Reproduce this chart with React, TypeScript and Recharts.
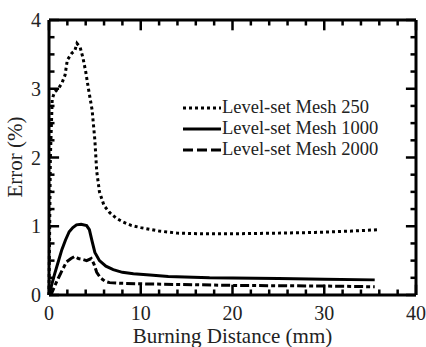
import { LineChart, Line, XAxis, YAxis, Legend, ReferenceLine } from 'recharts';

const mesh250X = [0, 0.15, 0.35, 0.6, 1.0, 1.4, 1.75, 2.0, 2.5, 2.8, 3.05, 3.4, 3.7, 4.0, 4.3, 4.7, 5.0, 5.2, 5.5, 6.0, 6.6, 7.3, 8.1, 9.0, 10, 12, 14, 16.5, 20, 25, 29, 33, 36];
const mesh250Y = [0, 2.0, 2.85, 2.95, 3.0, 3.08, 3.2, 3.42, 3.52, 3.55, 3.66, 3.6, 3.45, 3.25, 3.0, 2.69, 2.25, 1.8, 1.5, 1.3, 1.2, 1.12, 1.06, 1.01, 0.98, 0.93, 0.9, 0.89, 0.89, 0.9, 0.91, 0.93, 0.95];

const mesh1000X = [0, 0.3, 0.6, 1.0, 1.4, 1.8, 2.2, 2.6, 3.0, 3.5, 4.1, 4.4, 4.7, 5.0, 5.5, 6.2, 7.0, 8, 9.2, 11, 13, 17.5, 25, 30, 35.5];
const mesh1000Y = [0, 0.15, 0.3, 0.48, 0.66, 0.8, 0.92, 0.98, 1.02, 1.03, 1.01, 0.95, 0.78, 0.62, 0.5, 0.42, 0.37, 0.33, 0.31, 0.29, 0.27, 0.25, 0.24, 0.23, 0.22];

const mesh2000X = [0, 0.3, 0.65, 1.0, 1.4, 1.9, 2.4, 2.8, 3.2, 3.6, 4.1, 4.6, 4.9, 5.2, 5.6, 6.1, 6.6, 8, 11, 20, 30, 35.5];
const mesh2000Y = [0, 0.03, 0.14, 0.24, 0.35, 0.48, 0.53, 0.56, 0.53, 0.52, 0.5, 0.53, 0.45, 0.33, 0.25, 0.2, 0.18, 0.17, 0.16, 0.14, 0.13, 0.12];

const xTicks = [0, 2, 4, 6, 8, 10, 12, 14, 16, 18, 20, 22, 24, 26, 28, 30, 32, 34, 36, 38, 40];
const yTicks = [0, 0.25, 0.5, 0.75, 1, 1.25, 1.5, 1.75, 2, 2.25, 2.5, 2.75, 3, 3.25, 3.5, 3.75, 4];

const seriesNames = ['Level-set Mesh 250', 'Level-set Mesh 1000', 'Level-set Mesh 2000'];

// merged table: one row per x value, each series only where it has a point
const buildTable = () => {
  const rows = new Map<number, any>();
  const add = (xs: number[], ys: number[], key: string) =>
    xs.forEach((x, i) => {
      const row = rows.get(x) || { x };
      row[key] = ys[i];
      rows.set(x, row);
    });
  add(mesh250X, mesh250Y, 'm250');
  add(mesh1000X, mesh1000Y, 'm1000');
  add(mesh2000X, mesh2000Y, 'm2000');
  return [...rows.values()].sort((a, b) => a.x - b.x);
};

const FONT = '"Liberation Serif", "Times New Roman", Times, serif';
const dashes = ['3 3', undefined, '9 3 4 3'];

// inward tick lengths in data units (~10px major, ~5px minor)
const X_MAJOR_LEN = 0.15;
const X_MINOR_LEN = 0.08;
const Y_MAJOR_LEN = 1.1;
const Y_MINOR_LEN = 0.6;

const BottomTick = (props: any) => {
  const { x, y, payload } = props;
  if (payload.value % 10 !== 0) return <g />;
  return (
    <text x={x} y={y + 25} textAnchor="middle" fontSize={20} fontFamily={FONT} fill="#222">
      {payload.value}
    </text>
  );
};

const LeftTick = (props: any) => {
  const { x, y, payload } = props;
  if (!Number.isInteger(payload.value)) return <g />;
  return (
    <text x={x - 8} y={y + 7} textAnchor="end" fontSize={20} fontFamily={FONT} fill="#222">
      {payload.value}
    </text>
  );
};

const LegendBox = () => (
  <div style={{ fontFamily: FONT, fontSize: 18.5, color: '#222', lineHeight: '21px' }}>
    {seriesNames.map((name, i) => (
      <div key={name} style={{ display: 'flex', alignItems: 'center' }}>
        <svg width={40} height={21}>
          <line x1={1} x2={39} y1={11} y2={11} stroke="#000" strokeWidth={3} strokeDasharray={i === 2 ? '10 4' : dashes[i]} />
        </svg>
        <span>{name}</span>
      </div>
    ))}
  </div>
);

export default function App() {
  const data = buildTable();
  const keys = ['m250', 'm1000', 'm2000'];
  const tickSegments = [
    ...xTicks.flatMap((t) => {
      const len = t % 10 === 0 ? X_MAJOR_LEN : X_MINOR_LEN;
      return [
        { id: `b${t}`, seg: [{ x: t, y: 0 }, { x: t, y: len }] },
        { id: `t${t}`, seg: [{ x: t, y: 4 }, { x: t, y: 4 - len }] },
      ];
    }),
    ...yTicks.flatMap((t) => {
      const len = Number.isInteger(t) ? Y_MAJOR_LEN : Y_MINOR_LEN;
      return [
        { id: `l${t}`, seg: [{ x: 0, y: t }, { x: len, y: t }] },
        { id: `r${t}`, seg: [{ x: 40, y: t }, { x: 40 - len, y: t }] },
      ];
    }),
  ];
  return (
    <div style={{ position: 'absolute', left: 0, top: 0, background: '#fff', fontFamily: FONT }}>
      <LineChart width={426} height={347} data={data} margin={{ top: 19, right: 9, bottom: 12, left: 9 }}>
        <XAxis
          xAxisId="bottom"
          type="number"
          dataKey="x"
          domain={[0, 40]}
          ticks={xTicks}
          interval={0}
          height={40}
          tickLine={false}
          tickSize={0}
          tickMargin={0}
          tick={<BottomTick />}
          axisLine={{ stroke: '#000', strokeWidth: 3 }}
          label={{ value: 'Burning Distance (mm)', position: 'insideBottom', offset: -8, fontSize: 21, fontFamily: FONT, fill: '#222' }}
        />
        <XAxis
          xAxisId="top"
          orientation="top"
          type="number"
          dataKey="x"
          domain={[0, 40]}
          height={1}
          tick={false}
          tickLine={false}
          axisLine={{ stroke: '#000', strokeWidth: 3 }}
        />
        <YAxis
          yAxisId="left"
          type="number"
          domain={[0, 4]}
          ticks={yTicks}
          interval={0}
          width={40}
          tickLine={false}
          tickSize={0}
          tickMargin={0}
          tick={<LeftTick />}
          axisLine={{ stroke: '#000', strokeWidth: 3 }}
          label={{ value: 'Error (%)', angle: -90, position: 'insideLeft', offset: 6, dy: 40, fontSize: 21, fontFamily: FONT, fill: '#222' }}
        />
        <YAxis
          yAxisId="right"
          orientation="right"
          type="number"
          dataKey="m250"
          domain={[0, 4]}
          allowDataOverflow
          width={1}
          tick={false}
          tickLine={false}
          axisLine={{ stroke: '#000', strokeWidth: 3 }}
        />
        {tickSegments.map((s) => (
          <ReferenceLine
            key={s.id}
            xAxisId="bottom"
            yAxisId="left"
            segment={s.seg}
            stroke="#000"
            strokeWidth={2.5}
            ifOverflow="visible"
          />
        ))}
        <Legend
          content={<LegendBox />}
          layout="vertical"
          verticalAlign="middle"
          align="center"
          wrapperStyle={{ left: 182, top: 97, width: 230 }}
        />
        {keys.map((k, i) => (
          <Line
            key={k}
            xAxisId="bottom"
            yAxisId="left"
            dataKey={k}
            name={seriesNames[i]}
            stroke="#000"
            strokeWidth={3}
            strokeDasharray={dashes[i]}
            connectNulls
            dot={false}
            type="linear"
            isAnimationActive={false}
          />
        ))}
      </LineChart>
    </div>
  );
}
